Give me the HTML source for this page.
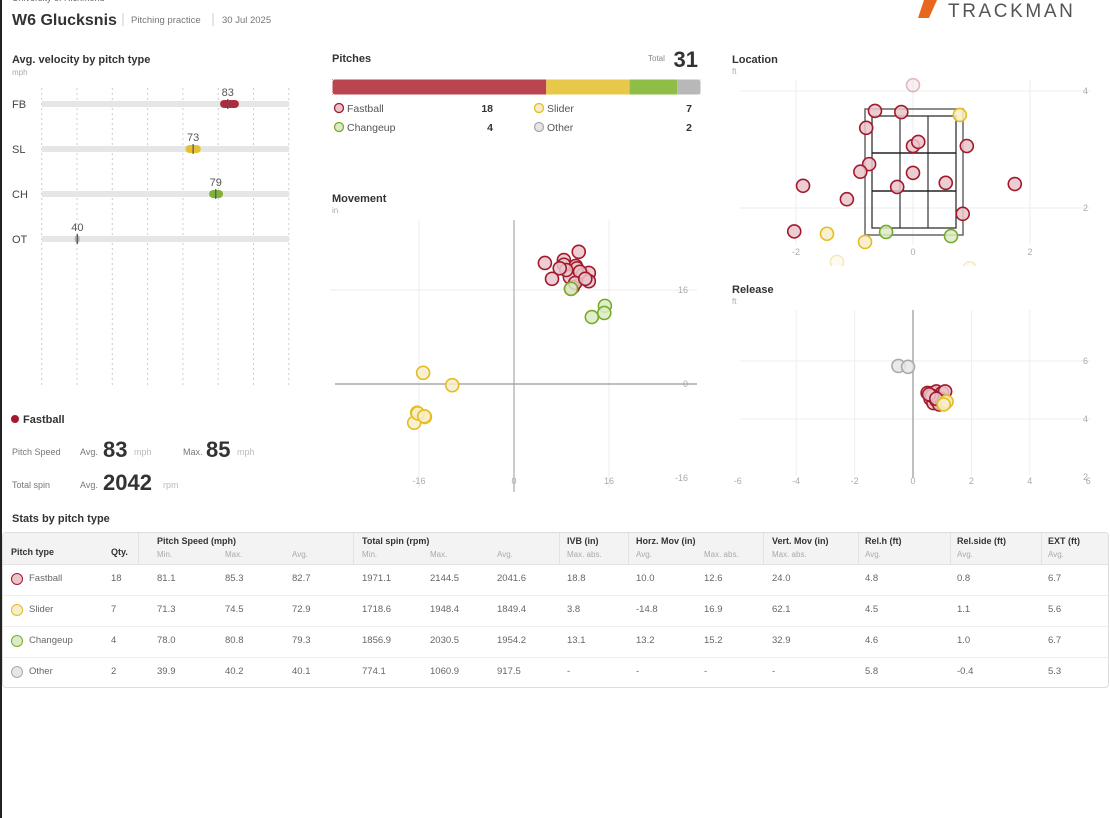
<!DOCTYPE html>
<html><head><meta charset="utf-8">
<style>
body{margin:0;background:#fff;font-family:"Liberation Sans",sans-serif;}
#page{position:relative;width:1110px;height:818px;overflow:hidden;background:#fff;border-left:2px solid #222;box-sizing:border-box;}
.t{position:absolute;white-space:nowrap;}
</style></head><body>
<div id="page">
<svg id="chart" width="1110" height="818" style="position:absolute;left:-2px;top:0"></svg>
<div id="table" style="position:absolute;left:0px;top:532px;width:1105px;height:154px;border:1px solid #ddd;border-radius:4px;overflow:hidden;">
  <div style="position:absolute;left:0;top:0;width:100%;height:31px;background:#f3f3f3;border-bottom:1px solid #e2e2e2"></div>
</div>
</div>
<script>
// ---------- data ----------
const types = ["Fastball","Slider","Changeup","Other"];
const abbrevs = ["FB","SL","CH","OT"];
const counts = [18,7,4,2];
const speedMin = [81.1,71.3,78.0,39.9];
const speedMax = [85.3,74.5,80.8,40.2];
const speedAvg = [82.7,72.9,79.3,40.1];
const velLabels = ["83","73","79","40"];
const velTicks = [30,40,50,60,70,80,90,100];
const spinMin = ["1971.1","1718.6","1856.9","774.1"];
const spinMax = ["2144.5","1948.4","2030.5","1060.9"];
const spinAvg = ["2041.6","1849.4","1954.2","917.5"];
const ivb = ["18.8","3.8","13.1","-"];
const horzAvg = ["10.0","-14.8","13.2","-"];
const horzMax = ["12.6","16.9","15.2","-"];
const vertMax = ["24.0","62.1","32.9","-"];
const relH = ["4.8","4.5","4.6","5.8"];
const relSide = ["0.8","1.1","1.0","-0.4"];
const ext = ["6.7","5.6","6.7","5.3"];
// movement (in)
const movFBx = [5.2,8.4,8.4,10.9,10.4,10.6,6.4,9.4,11.6,12.6,12.6,9.9,9.6,11.1,10.3,8.8,12.0,7.7];
const movFBy = [20.6,21.1,20.3,22.5,20.1,19.7,17.9,18.2,18.6,18.9,17.5,16.5,16.2,19.1,17.2,19.4,17.9,19.7];
const movSLx = [-15.3,-10.4,-16.3,-15.0,-16.8,-16.2,-15.1];
const movSLy = [1.9,-0.2,-4.9,-5.6,-6.6,-5.0,-5.5];
const movCHx = [9.6,15.3,15.2,13.1];
const movCHy = [16.2,13.3,12.1,11.4];
// location (ft)
const locFBx = [0.0,-0.65,-0.2,-0.8,0.0,0.09,0.92,-0.75,-0.9,0.0,-1.88,-0.27,0.56,1.74,-1.13,0.85,-2.03];
const locFBy = [4.1,3.66,3.64,3.37,3.06,3.13,3.06,2.75,2.62,2.6,2.38,2.36,2.43,2.41,2.15,1.9,1.6];
const locSLx = [0.8,-1.47,-0.82,-1.3,0.97];
const locSLy = [3.59,1.56,1.42,1.08,0.97];
const locCHx = [-0.46,0.65];
const locCHy = [1.59,1.52];
// release (ft)
const relFBx = [0.5,0.6,0.7,0.8,0.9,1.0,0.6,0.75,0.85,0.95,1.1,0.7,0.8,0.9,1.0,0.65,0.55,0.8];
const relFBy = [4.9,4.85,4.9,4.95,4.8,4.9,4.7,4.75,4.6,4.7,4.95,4.55,4.65,4.5,4.6,4.8,4.85,4.7];
const relSLx = [1.1,1.15,1.05];
const relSLy = [4.55,4.6,4.5];
const relOTx = [-0.5,-0.17];
const relOTy = [5.83,5.8];

const strokeC = ["#a3182d","#e3bd1e","#78ab2a","#aaaaaa"];
const fillC = ["#e9c5ca","#f7edc9","#dcebc6","#e6e6e6"];
const barC = ["#b8454f","#e8c84a","#8fbd47","#b8b8b8"];

const svg = document.getElementById('chart');
const NS = "http://www.w3.org/2000/svg";
function el(tag, attrs, parent){const e=document.createElementNS(NS,tag);for(const k in attrs)e.setAttribute(k,attrs[k]);(parent||svg).appendChild(e);return e;}
function txt(x,y,s,size,fill,weight,anchor){const e=el('text',{x:x,y:y,'font-size':size,fill:fill||'#333','font-weight':weight||'normal','text-anchor':anchor||'start','font-family':'Liberation Sans, sans-serif'});e.textContent=s;return e;}

// ---------- header ----------
let e;
e=txt(12,1,"University of Richmond",9,"#666");

e=txt(12,25,"W6 Glucksnis",16,"#333","bold");

el('line',{x1:123,y1:13,x2:123,y2:26,stroke:'#ccc'});
e=txt(131,23,"Pitching practice",9.5,"#777");

el('line',{x1:213,y1:13,x2:213,y2:26,stroke:'#ccc'});
e=txt(222,23,"30 Jul 2025",9.5,"#777");

e=el('polygon',{points:"924,0 937,0 929,18 918,18",fill:'#e8671f'});

e=txt(948,17,"TRACKMAN",19,"#555");e.setAttribute('letter-spacing','2.6');


// ---------- velocity chart ----------
const vx = v => 77 + (v-40)*3.53;
const rowY = i => 104 + i*45;
e=txt(12,63,"Avg. velocity by pitch type",11,"#333","bold");

txt(12,75,"mph",8,"#aaa");
velTicks.forEach(t=>{
  const g=el('line',{x1:vx(t),y1:88,x2:vx(t),y2:386,stroke:'#ccc','stroke-dasharray':'2,3'});
  
});
types.forEach((tp,i)=>{
  const y=rowY(i);
  const lb=txt(12,y+4,abbrevs[i],11,"#444");
  
  const bg=el('rect',{x:42,y:y-3,width:247,height:6,fill:'#e6e6e6'});
  
  const x1=vx(speedMin[i]),x2=vx(speedMax[i]);
  const cap=el('rect',{x:x1-2,y:y-4,width:x2-x1+4,height:8,rx:4,fill:strokeC[i],opacity:0.9});
  
  const tk=el('line',{x1:vx(speedAvg[i]),y1:y-5,x2:vx(speedAvg[i]),y2:y+5,stroke:'#555','stroke-width':1.2});
  
  const vl=txt(vx(speedAvg[i]),y-8,velLabels[i],11,"#555","normal","middle");
  
});

// ---------- fastball summary ----------
e=el('circle',{cx:15,cy:419,r:4,fill:'#a3182d'});

e=txt(23,423,"Fastball",11,"#333","bold");

txt(12,455,"Pitch Speed",9,"#777");
txt(80,455,"Avg.",9,"#777");
e=txt(103,457,"83",22,"#333","bold");
txt(134,455,"mph",9,"#bbb");
txt(183,455,"Max.",9,"#777");
e=txt(206,457,"85",22,"#333","bold");
txt(237,455,"mph",9,"#bbb");
txt(12,488,"Total spin",9,"#777");
txt(80,488,"Avg.",9,"#777");
e=txt(103,490,"2042",22,"#333","bold");
txt(163,488,"rpm",9,"#bbb");

// ---------- pitches bar ----------
e=txt(332,62,"Pitches",11,"#333","bold");

txt(648,61,"Total",8,"#888");
e=txt(698,67,"31",22,"#333","bold","end");

const total=counts.reduce((a,b)=>a+b,0);
let acc=0;const bx=332,bw=369;
counts.forEach((c,i)=>{
  const r=el('rect',{x:bx+bw*acc/total,y:79,width:bw*c/total,height:16,fill:barC[i]});
  
  acc+=c;
});
el('rect',{x:bx,y:79,width:bw,height:16,rx:3,fill:'none',stroke:'#fff','stroke-width':1});
types.forEach((tp,i)=>{
  const col=i%2, row=Math.floor(i/2);
  const x=bx+4+col*200, y=108+row*19;
  const c=el('circle',{cx:x+3,cy:y,r:4.5,fill:fillC[i],stroke:strokeC[i],'stroke-width':1.3});
  
  const l=txt(x+11,y+4,tp,10.5,"#555");
  
  const n=txt(col?692:493,y+4,String(counts[i]),10.5,"#333","bold","end");
  
});

function dots(xs,ys,sx,sy,ti,name,op){
  xs.forEach((v,k)=>{
    const c=el('circle',{cx:sx(v),cy:sy(ys[k]),r:6.5,fill:fillC[ti],'fill-opacity':0.85,stroke:strokeC[ti],'stroke-width':1.6,opacity:op?op(k):1});
    
    
  });
}

// ---------- movement ----------
const mx = v => 514 + v*5.94;
const my = v => 384 - v*5.875;
e=txt(332,202,"Movement",11,"#333","bold");
txt(332,213,"in",8,"#aaa");
[-16,16].forEach(t=>{el('line',{x1:mx(t),y1:220,x2:mx(t),y2:488,stroke:'#ececec'});});
el('line',{x1:330,y1:my(16),x2:697,y2:my(16),stroke:'#ececec'});
el('line',{x1:mx(0),y1:220,x2:mx(0),y2:492,stroke:'#aaa','stroke-width':1.2});
el('line',{x1:335,y1:my(0),x2:697,y2:my(0),stroke:'#999','stroke-width':1.2});
[-16,0,16].forEach(t=>{const a=txt(mx(t),484,String(t),9,"#aaa","normal","middle");});
[16,0,-16].forEach(t=>{const a=txt(688,my(t)+3,String(t),9,"#aaa","normal","end");});
dots(movSLx,movSLy,mx,my,1,'movement-point-slider');
dots(movFBx,movFBy,mx,my,0,'movement-point-fastball');
dots(movCHx,movCHy,mx,my,2,'movement-point-changeup');

// ---------- location ----------
const lx = v => 913 + v*58.5;
const ly = v => 91 + (4-v)*58.5;
e=txt(732,63,"Location",11,"#333","bold");
txt(732,74,"ft",8,"#aaa");
[-2,0,2].forEach(t=>{el('line',{x1:lx(t),y1:80,x2:lx(t),y2:245,stroke:'#eee'});});
[4,2].forEach(t=>{el('line',{x1:740,y1:ly(t),x2:1090,y2:ly(t),stroke:'#eee'});});
[-2,0,2].forEach(t=>{const a=txt(lx(t),255,String(t),9,"#aaa","normal","middle");});
[4,2].forEach(t=>{const a=txt(1088,ly(t)+3,String(t),9,"#aaa","normal","end");});
e=el('rect',{x:865,y:109,width:98,height:126,fill:'none',stroke:'#666','stroke-width':1.5});

e=el('rect',{x:872,y:116,width:84,height:112,fill:'none',stroke:'#333','stroke-width':1.3});

[900,928].forEach(x=>el('line',{x1:x,y1:116,x2:x,y2:228,stroke:'#333','stroke-width':1.2}));
[153,191].forEach(y=>el('line',{x1:872,y1:y,x2:956,y2:y,stroke:'#222','stroke-width':1.4}));
dots(locFBx,locFBy,lx,ly,0,'location-point-fastball',k=>k===0?0.3:1);
dots(locSLx,locSLy,lx,ly,1,'location-point-slider',k=>k>=3?0.3:1);
dots(locCHx,locCHy,lx,ly,2,'location-point-changeup');
el('rect',{x:720,y:266,width:390,height:12,fill:'#fff'});

// ---------- release ----------
const rx = v => 913 + v*29.2;
const ry = v => 361 + (6-v)*29;
e=txt(732,293,"Release",11,"#333","bold");
txt(732,304,"ft",8,"#aaa");
[-4,-2,2,4].forEach(t=>{el('line',{x1:rx(t),y1:310,x2:rx(t),y2:475,stroke:'#eee'});});
[6,4].forEach(t=>{el('line',{x1:740,y1:ry(t),x2:1090,y2:ry(t),stroke:'#eee'});});
el('line',{x1:rx(0),y1:310,x2:rx(0),y2:478,stroke:'#aaa','stroke-width':1.5});
[-6,-4,-2,0,2,4,6].forEach(t=>{const a=txt(rx(t),484,String(t),9,"#aaa","normal","middle");});
[6,4,2].forEach(t=>{const a=txt(1088,ry(t)+3,String(t),9,"#aaa","normal","end");});
dots(relOTx,relOTy,rx,ry,3,'release-point-other');
dots(relFBx,relFBy,rx,ry,0,'release-point-fastball');
dots(relSLx,relSLy,rx,ry,1,'release-point-slider');

// ---------- stats table ----------
e=txt(12,522,"Stats by pitch type",11,"#333","bold");

const tbl=document.getElementById('table');
function cell(x,y,s,size,color,weight){
  const d=document.createElement('div');d.className='t';
  d.style.left=x+'px';d.style.top=y+'px';d.style.fontSize=size+'px';d.style.color=color;d.style.fontWeight=weight||'normal';
  d.textContent=s;tbl.appendChild(d);return d;
}
const hdr1=[["Pitch type",8,14],["Qty.",108,14],["Pitch Speed (mph)",154,3],["Total spin (rpm)",359,3],["IVB (in)",564,3],["Horz. Mov (in)",633,3],["Vert. Mov (in)",769,3],["Rel.h (ft)",862,3],["Rel.side (ft)",954,3],["EXT (ft)",1045,3]];
hdr1.forEach(h=>{const d=cell(h[0]==="Pitch type"?8:h[1],h[2],h[0],9,"#333","bold");
  
  });
const hdr2=[["Min.",154],["Max.",222],["Avg.",289],["Min.",359],["Max.",427],["Avg.",494],["Max. abs.",564],["Avg.",633],["Max. abs.",701],["Max. abs.",769],["Avg.",862],["Avg.",954],["Avg.",1045]];
hdr2.forEach(h=>{const d=cell(h[1],17,h[0],8,"#aaa");
  
  });
[135,350,556,625,760,855,947,1038].forEach(x=>{const d=document.createElement('div');d.style.cssText='position:absolute;left:'+x+'px;top:0;width:1px;height:31px;background:#e2e2e2';tbl.appendChild(d);});
types.forEach((tp,i)=>{
  const y=40+i*31;
  if(i<3){const ln=document.createElement('div');ln.style.cssText='position:absolute;left:0;top:'+(y+22)+'px;width:100%;height:1px;background:#eee';tbl.appendChild(ln);}
  const m=document.createElement('div');
  m.style.cssText='position:absolute;left:8px;top:'+(y)+'px;width:10px;height:10px;border-radius:50%;border:1.5px solid '+strokeC[i]+';background:'+fillC[i];
  
  
  tbl.appendChild(m);
  const vals=[[tp,26],[String(counts[i]),108],[speedMin[i].toFixed(1),154],[speedMax[i].toFixed(1),222],[speedAvg[i].toFixed(1),289],[spinMin[i],359],[spinMax[i],427],[spinAvg[i],494],[ivb[i],564],[horzAvg[i],633],[horzMax[i],701],[vertMax[i],769],[relH[i],862],[relSide[i],954],[ext[i],1045]];
  vals.forEach(v=>{const d=cell(v[1],y,v[0],9.5,"#666");
    
    });
});
</script>
</body></html>
